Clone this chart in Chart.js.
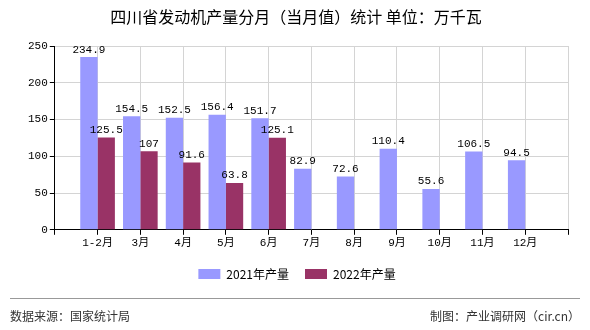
<!DOCTYPE html>
<html lang="zh">
<head>
<meta charset="UTF-8">
<title>四川省发动机产量分月</title>
<script src="https://cdn.jsdelivr.net/npm/chart.js"></script>
<style>
  html, body { margin: 0; padding: 0; background: #fff; }
  #wrap { width: 590px; height: 330px; }
</style>
</head>
<body>
<div id="wrap"><canvas id="myChart" width="590" height="330"></canvas></div>
<script>
// data
const months = ['1-2月', '3月', '4月', '5月', '6月', '7月', '8月', '9月', '10月', '11月', '12月'];
const output2021 = [234.9, 154.5, 152.5, 156.4, 151.7, 82.9, 72.6, 110.4, 55.6, 106.5, 94.5];
const output2022 = [125.5, 107, 91.6, 63.8, 125.1, null, null, null, null, null, null];
const yTicks = [0, 50, 100, 150, 200, 250];

const titleText = '四川省发动机产量分月（当月值）统计 单位：万千瓦';
const sourceText = '数据来源：国家统计局';
const makerText = '制图：产业调研网（cir.cn）';

// the groups sit on the ticks, with an empty slot at each end
const labels = [''].concat(months, ['']);
const pad = arr => [null].concat(arr, [null]);

const monoFont = "'Liberation Mono', 'Noto Sans CJK SC', monospace";
const cjkFont = "'Noto Sans CJK SC', sans-serif";

const extras = {
  id: 'extras',
  afterDatasetsDraw(chart) {
    const ctx = chart.ctx;
    ctx.save();
    ctx.font = '11px ' + monoFont;
    ctx.fillStyle = '#000';
    ctx.textAlign = 'center';
    ctx.textBaseline = 'bottom';
    chart.data.datasets.forEach((ds, i) => {
      const meta = chart.getDatasetMeta(i);
      meta.data.forEach((bar, j) => {
        const v = ds.data[j];
        if (v === null || v === undefined) return;
        ctx.fillText(String(v), bar.x, bar.y - 2);
      });
    });
    ctx.restore();
  },
  afterDraw(chart) {
    const ctx = chart.ctx;
    ctx.save();
    ctx.fillStyle = '#000';
    ctx.font = '16px ' + cjkFont;
    ctx.textAlign = 'center';
    ctx.textBaseline = 'middle';
    ctx.fillText(titleText, 296, 17);

    ctx.strokeStyle = '#999';
    ctx.lineWidth = 1;
    ctx.beginPath();
    ctx.moveTo(10, 298.5);
    ctx.lineTo(580, 298.5);
    ctx.stroke();

    ctx.fillStyle = '#333';
    ctx.font = '12px ' + cjkFont;
    ctx.textAlign = 'left';
    ctx.fillText(sourceText, 10, 316);
    ctx.textAlign = 'right';
    ctx.fillText(makerText, 580, 316);
    ctx.restore();
  }
};

new Chart(document.getElementById('myChart'), {
  type: 'bar',
  data: {
    labels: labels,
    datasets: [
      { label: '2021年产量', data: pad(output2021), backgroundColor: '#9999FF' },
      { label: '2022年产量', data: pad(output2022), backgroundColor: '#993366' }
    ]
  },
  options: {
    responsive: false,
    animation: false,
    devicePixelRatio: 1,
    categoryPercentage: 0.81,
    barPercentage: 1.0,
    layout: { padding: { top: 46, right: 22, left: 26, bottom: 40 } },
    scales: {
      x: {
        offset: false,
        grid: { color: '#d4d4d4', tickColor: '#000', tickLength: 5, offset: false },
        border: { color: '#000' },
        ticks: { color: '#000', font: { family: monoFont, size: 11 }, padding: 2, maxRotation: 0, autoSkip: false }
      },
      y: {
        min: 0,
        max: 250,
        afterBuildTicks: axis => { axis.ticks = yTicks.map(v => ({ value: v })); },
        grid: { color: '#d4d4d4', tickColor: '#000', tickLength: 5 },
        border: { color: '#000' },
        ticks: { color: '#000', font: { family: monoFont, size: 11 }, padding: 2 }
      }
    },
    plugins: {
      title: { display: false },
      tooltip: { enabled: false },
      legend: {
        position: 'bottom',
        labels: {
          boxWidth: 22,
          boxHeight: 10,
          color: '#000',
          padding: 16,
          font: { family: cjkFont, size: 12 }
        }
      }
    }
  },
  plugins: [extras]
});
</script>
</body>
</html>
